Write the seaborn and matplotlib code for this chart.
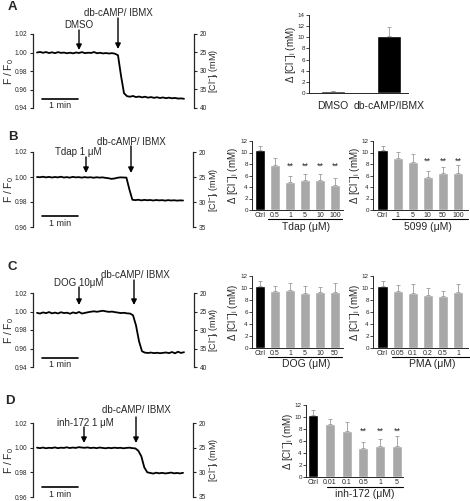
import numpy as np
import matplotlib
matplotlib.use('Agg')
import matplotlib.pyplot as plt
import seaborn as sns
from matplotlib.lines import Line2D
from matplotlib.patches import FancyArrowPatch

sns.set_style('ticks')
plt.rcParams['font.family'] = ['Liberation Sans', 'DejaVu Sans']
plt.rcParams['mathtext.fontset'] = 'custom'
plt.rcParams['mathtext.rm'] = 'Liberation Sans'
plt.rcParams['mathtext.it'] = 'Liberation Sans:italic'

W, H = 470, 501

# ---- trace data: F/F0, one point every 5 s ----
trace_time = np.arange(0, 250, 5)

trace_a = [1.0000, 1.0006, 0.9997, 1.0005, 0.9994, 1.0002, 0.9993, 1.0004, 0.9996, 0.9999,
           0.9992, 0.9998, 0.9991, 1.0000, 0.9995, 1.0004, 0.9993, 0.9998, 0.9995, 1.0005,
           0.9992, 0.9997, 0.9990, 0.9994, 0.9989, 0.9993, 0.9987, 0.9970, 0.9750, 0.9560,
           0.9528, 0.9522, 0.9530, 0.9518, 0.9524, 0.9515, 0.9522, 0.9512, 0.9518, 0.9510,
           0.9516, 0.9508, 0.9514, 0.9506, 0.9512, 0.9505, 0.9509, 0.9502, 0.9504, 0.9500]

trace_b = [1.0000, 0.9998, 1.0002, 0.9997, 1.0001, 0.9996, 1.0000, 0.9997, 1.0002, 0.9996,
           0.9999, 0.9995, 1.0001, 0.9997, 0.9999, 0.9995, 0.9999, 0.9996, 0.9998, 0.9994,
           0.9998, 0.9995, 0.9997, 0.9993, 0.9990, 0.9985, 0.9988, 0.9994, 0.9997, 0.9996,
           0.9995, 0.9900, 0.9818, 0.9815, 0.9818, 0.9813, 0.9817, 0.9814, 0.9816, 0.9812,
           0.9816, 0.9813, 0.9815, 0.9811, 0.9815, 0.9812, 0.9814, 0.9811, 0.9813, 0.9812]

trace_c = [0.9985, 0.9978, 0.9990, 0.9982, 0.9994, 0.9980, 0.9988, 0.9979, 0.9992, 0.9983,
           0.9987, 0.9976, 0.9990, 0.9981, 0.9995, 0.9978, 0.9985, 0.9992, 0.9998, 1.0002,
           0.9997, 1.0003, 1.0008, 1.0001, 0.9996, 0.9999, 0.9993, 0.9988, 0.9983, 0.9986,
           0.9980, 0.9978, 0.9960, 0.9850, 0.9680, 0.9570, 0.9555, 0.9552, 0.9556, 0.9550,
           0.9554, 0.9549, 0.9553, 0.9557, 0.9550, 0.9562, 0.9548, 0.9565, 0.9552, 0.9560]

trace_d = [1.0000, 0.9996, 1.0001, 0.9995, 0.9999, 0.9997, 1.0002, 0.9996, 1.0000, 0.9998,
           1.0003, 0.9997, 1.0001, 0.9998, 1.0004, 1.0001, 0.9999, 1.0002, 0.9997, 1.0000,
           0.9996, 1.0001, 0.9998, 0.9995, 0.9999, 0.9996, 1.0000, 0.9997, 0.9999, 0.9995,
           0.9998, 1.0000, 0.9996, 0.9994, 0.9975, 0.9930, 0.9840, 0.9800, 0.9795, 0.9790,
           0.9797, 0.9792, 0.9796, 0.9791, 0.9794, 0.9798, 0.9792, 0.9795, 0.9791, 0.9796]

# ---- bar data: delta [Cl-]i (mM), mean and upper error ----
a_labels = ['DMSO', 'db-cAMP/IBMX']
a_vals = [0.3, 10.3]
a_err = [0.1, 1.5]

tdap_labels = ['Ctrl', '0.5', '1', '5', '10', '100']
tdap_vals = [10.4, 7.9, 4.9, 5.2, 5.3, 4.4]
tdap_err = [0.7, 1.2, 1.1, 1.0, 0.9, 1.1]
tdap_sig = [2, 3, 4, 5]

c5099_labels = ['Ctrl', '1', '5', '10', '50', '100']
c5099_vals = [10.4, 9.1, 8.3, 5.7, 6.4, 6.4]
c5099_err = [0.7, 1.0, 1.5, 1.1, 1.0, 1.5]
c5099_sig = [3, 4, 5]

dog_labels = ['Ctrl', '0.5', '1', '5', '10', '50']
dog_vals = [10.4, 9.5, 9.7, 9.2, 9.4, 9.3]
dog_err = [0.8, 0.9, 1.1, 1.1, 0.7, 1.6]

pma_labels = ['Ctrl', '0.05', '0.1', '0.2', '0.5', '1']
pma_vals = [10.4, 9.5, 9.1, 8.8, 8.7, 9.3]
pma_err = [0.8, 1.0, 1.5, 1.2, 0.8, 1.3]

inh_labels = ['Ctrl', '0.01', '0.1', '0.5', '1', '5']
inh_vals = [10.4, 8.9, 7.6, 4.9, 5.1, 5.1]
inh_err = [0.8, 0.7, 1.5, 1.0, 1.3, 1.7]
inh_sig = [3, 4, 5]

BLACK = '#000000'
GREY = '#a8a8a8'

fig = plt.figure(figsize=(W / 100, H / 100), dpi=100)


def box(l, t, r, b):
    return [l / W, 1 - b / H, (r - l) / W, (b - t) / H]


def fx(x):
    return x / W


def fy(y):
    return 1 - y / H


def ftext(x, y, s, size=7, **kw):
    fig.text(fx(x), fy(y), s, fontsize=size, ha='center', va='center', **kw)


def arrow(x, y0, y1):
    fig.add_artist(FancyArrowPatch((fx(x), fy(y0)), (fx(x), fy(y1)),
                                   transform=fig.transFigure, arrowstyle='-|>',
                                   mutation_scale=8, color='k', lw=1.0,
                                   shrinkA=0, shrinkB=0))


def hline(x0, x1, y):
    fig.add_artist(Line2D([fx(x0), fx(x1)], [fy(y), fy(y)], color='k', lw=0.8))


def trace_panel(rect, values, fmin, bar_y, text_y):
    l, t, r, b = rect
    ax = fig.add_axes(box(*rect))
    sns.lineplot(x=trace_time, y=values, ax=ax, color='k', lw=1.3)
    ax.set_xlim(-6.7, 261.7)
    ax.set_ylim(fmin, 1.02)
    ticks = np.arange(fmin, 1.0201, 0.02)
    ax.set_yticks(ticks)
    ax.set_yticklabels(['%.2f' % v for v in ticks])
    ax.set_xticks([])
    for s in ['top', 'bottom', 'right']:
        ax.spines[s].set_visible(False)
    ax.spines['left'].set_linewidth(0.9)
    ax.tick_params(axis='y', labelsize=4.7, length=2.5, width=0.8, pad=1.5)
    ax.set_ylabel('F / F$_0$', fontsize=7.5)
    ax.yaxis.set_label_coords((15.5 - l) / (r - l), 0.5)
    # scale bar: 1 min
    ax.plot([8, 68], [bar_y, bar_y], color='k', lw=1.2,
            transform=ax.get_xaxis_transform(), clip_on=False)
    ax.text(38, text_y, '1 min', fontsize=6.5, ha='center', va='center',
            transform=ax.get_xaxis_transform())
    ax2 = ax.twinx()
    cl_max = 20 + (1.02 - fmin) * 250
    ax2.set_ylim(cl_max, 20)
    ax2.set_yticks(np.arange(20, cl_max + 0.1, 5))
    for s in ['top', 'bottom', 'left']:
        ax2.spines[s].set_visible(False)
    ax2.spines['right'].set_linewidth(0.9)
    ax2.tick_params(axis='y', labelsize=4.7, length=2.5, width=0.8, pad=1.5)
    ax2.set_ylabel('[Cl$^{-}$]$_{\\rm i}$ (mM)', fontsize=6.5)
    ax2.yaxis.set_label_coords((206.5 - l) / (r - l), 0.5)
    return ax


def bar_panel(rect, labels, vals, errs, xlim, width, ymax, label_x, tick_size=5,
              sig=None, star_y=None, label_pad=1.5):
    l, t, r, b = rect
    ax = fig.add_axes(box(*rect))
    colors = [BLACK] + [GREY] * (len(vals) - 1)
    if len(vals) == 2:
        colors = [BLACK, BLACK]
    sns.barplot(x=labels, y=vals, hue=labels, palette=colors, legend=False,
                ax=ax, width=width, saturation=1, order=labels, hue_order=labels)
    n = len(vals)
    ax.errorbar(np.arange(n), vals, yerr=[np.zeros(n), errs], fmt='none',
                ecolor='#9a9a9a', elinewidth=0.6, capsize=1.5, capthick=0.6)
    ax.set_xlim(*xlim)
    ax.set_ylim(0, ymax)
    ax.set_yticks(np.arange(0, ymax + 0.1, 2))
    ax.tick_params(axis='y', labelsize=4.5, length=2, width=0.6, pad=1)
    ax.tick_params(axis='x', labelsize=tick_size, length=0, pad=label_pad)
    for s in ['top', 'right']:
        ax.spines[s].set_visible(False)
    ax.spines['left'].set_linewidth(0.7)
    ax.spines['bottom'].set_linewidth(0.7)
    ax.set_xlabel('')
    ax.set_ylabel('$\\Delta$ [Cl$^{-}$]$_{\\rm i}$ (mM)', fontsize=7)
    ax.yaxis.set_label_coords((label_x - l) / (r - l), 0.5)
    if sig:
        for i in sig:
            ax.text(i, star_y, '**', fontsize=6.5, ha='center', va='center')
    return ax


# ---- panel A ----
trace_panel((33, 34, 194, 108), trace_a, 0.94, 0.12, 0.03)
bar_panel((309, 15, 408, 93), a_labels, a_vals, a_err, (-0.43, 1.34), 0.43, 14, 297.5,
          tick_size=7.5, label_pad=6)

# ---- panel B ----
trace_panel((33, 152, 193, 227), trace_b, 0.96, 0.147, 0.04)
bar_panel((252, 141, 343, 210), tdap_labels, tdap_vals, tdap_err, (-0.53, 5.53), 0.67, 12, 240,
          sig=tdap_sig, star_y=7.6)
bar_panel((373, 141, 468, 210), c5099_labels, c5099_vals, c5099_err, (-0.63, 5.66), 0.67, 12, 362.5,
          sig=c5099_sig, star_y=8.5)

# ---- panel C ----
trace_panel((33, 293, 194, 367), trace_c, 0.94, 0.12, 0.04)
bar_panel((252, 276, 343, 348), dog_labels, dog_vals, dog_err, (-0.53, 5.53), 0.67, 12, 240)
bar_panel((373, 276, 468, 348), pma_labels, pma_vals, pma_err, (-0.63, 5.66), 0.67, 12, 362.5)

# ---- panel D ----
trace_panel((33, 423, 193, 497), trace_d, 0.96, 0.135, 0.04)
bar_panel((306, 405, 403, 477), inh_labels, inh_vals, inh_err, (-0.42, 5.36), 0.6, 12, 295,
          sig=inh_sig, star_y=7.6)

# group labels under bar charts
hline(268, 342, 219)
ftext(306, 227, 'Tdap (\u03bcM)', size=7.5)
hline(392, 468, 219)
ftext(428, 227, '5099 (\u03bcM)', size=7.5)
hline(268, 342, 357)
ftext(306, 364, 'DOG (\u03bcM)', size=7.5)
hline(392, 470, 357)
ftext(432, 364, 'PMA (\u03bcM)', size=7.5)
hline(327, 403, 487)
ftext(365, 494, 'inh-172 (\u03bcM)', size=7.5)

# drug additions
ftext(79, 25, 'DMSO')
arrow(79, 30, 50)
ftext(118, 13, 'db-cAMP/ IBMX')
arrow(118, 18, 49)

ftext(78, 152, 'Tdap 1 \u03bcM')
arrow(86, 157, 173)
ftext(131, 142, 'db-cAMP/ IBMX')
arrow(131, 146, 173)

ftext(79, 283, 'DOG 10\u03bcM')
arrow(79, 287, 305)
ftext(135, 275, 'db-cAMP/ IBMX')
arrow(134, 280, 305)

ftext(85, 423, 'inh-172 1 \u03bcM')
arrow(84, 427, 443)
ftext(136, 410, 'db-cAMP/ IBMX')
arrow(136, 417, 443)

# panel letters
for letter, x, y in [('A', 12, 7), ('B', 13, 137), ('C', 12, 267), ('D', 10, 401)]:
    ftext(x, y, letter, size=9.5, fontweight='bold')

fig.savefig('out.png', dpi=100)
